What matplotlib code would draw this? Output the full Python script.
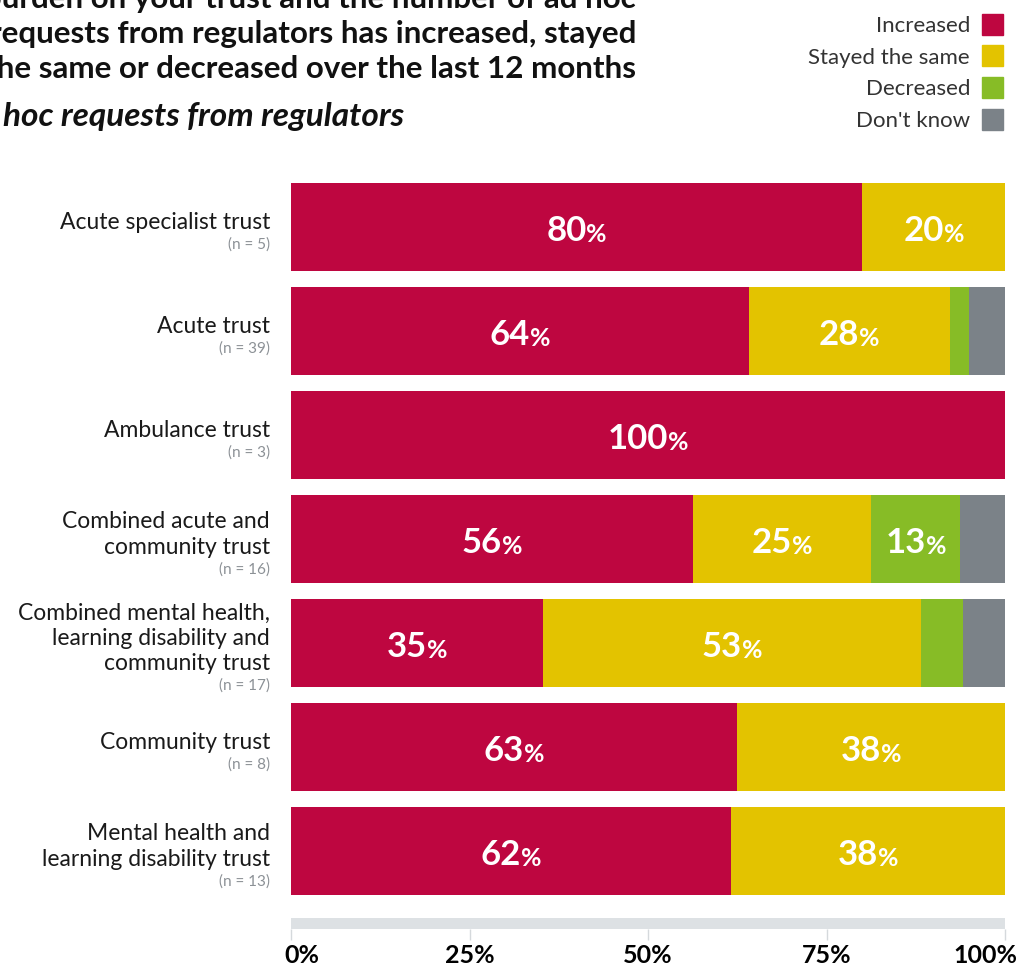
import numpy as np
import matplotlib
matplotlib.use("Agg")
import matplotlib.pyplot as plt
from matplotlib.patches import Rectangle
from matplotlib.transforms import ScaledTranslation

categories = ["Acute specialist trust", "Acute trust", "Ambulance trust",
              "Combined acute and\ncommunity trust",
              "Combined mental health,\nlearning disability and\ncommunity trust",
              "Community trust",
              "Mental health and\nlearning disability trust"]
sample_sizes = [5, 39, 3, 16, 17, 8, 13]

# share of respondents (%) per answer
increased = [80.0, 64.1, 100.0, 56.25, 35.3, 62.5, 61.6]
stayed_same = [20.0, 28.2, 0.0, 25.0, 52.9, 37.5, 38.4]
decreased = [0.0, 2.6, 0.0, 12.5, 5.9, 0.0, 0.0]
dont_know = [0.0, 5.1, 0.0, 6.25, 5.9, 0.0, 0.0]

series_names = ["Increased", "Stayed the same", "Decreased", "Don't know"]
series_colors = ["#be0640", "#e3c300", "#87bc26", "#7b8288"]
tick_values = [0, 25, 50, 75, 100]

title_lines = ["burden on your trust and the number of ad hoc",
               "requests from regulators has increased, stayed",
               "the same or decreased over the last 12 months"]
subtitle = "Ad hoc requests from regulators"

FONT = "Lato"
W, H = 1019, 966
fig = plt.figure(figsize=(W / 100, H / 100), dpi=100)


def fx(px):
    return px / W


def fy(py):
    return 1 - py / H


# main bar area
ax = fig.add_axes([fx(291), fy(903), fx(1005) - fx(291), (903 - 175) / H])
series = [increased, stayed_same, decreased, dont_know]
ypos = np.arange(len(categories))
left = np.zeros(len(categories))
for vals, col in zip(series, series_colors):
    vals = np.array(vals)
    ax.barh(ypos, vals, left=left, height=0.846, color=col, edgecolor="none")
    left = left + vals
ax.set_xlim(0, 100)
ax.set_ylim(len(categories) - 0.5, -0.5)
ax.axis("off")

# value labels: big number + smaller percent sign, centred in the segment
renderer = fig.canvas.get_renderer()
px_per_unit = (fx(1005) - fx(291)) * W / 100
left = np.zeros(len(categories))
for vals in series:
    for i, v in enumerate(vals):
        if v >= 10:
            c = left[i] + v / 2
            num = ax.text(c, i + 0.04, str(int(v + 0.5)), ha="right", va="center",
                          color="white", fontsize=25, fontweight="bold", family=FONT)
            pct = ax.text(c, i + 0.07, "%", ha="left", va="center",
                          color="white", fontsize=18, fontweight="bold", family=FONT)
            wn = num.get_window_extent(renderer).width
            wp = pct.get_window_extent(renderer).width
            shift = (wn - wp) / 2 / px_per_unit
            num.set_x(c + shift)
            pct.set_x(c + shift)
    left = left + np.array(vals)

# category labels, one text per line, sample size underneath
for i, (cat, n) in enumerate(zip(categories, sample_sizes)):
    lines = cat.split("\n")
    yc = 227 + 104 * i
    first = yc + 5 - (25 * (len(lines) - 1) + 23) / 2
    for k, line in enumerate(lines):
        fig.text(fx(270), fy(first + 25 * k), line, ha="right", va="center_baseline",
                 fontsize=16.5, color="#1a1a1a", family=FONT)
    fig.text(fx(270), fy(first + 25 * (len(lines) - 1) + 23), "(n = %d)" % n,
             ha="right", va="center_baseline", fontsize=11, color="#8c9196", family=FONT)

# scale band with ticks
sax = fig.add_axes([fx(291), fy(929), fx(1005) - fx(291), 11 / H])
sax.set_facecolor("#dde1e4")
sax.set_xlim(0, 100)
sax.set_yticks([])
sax.set_xticks(tick_values)
sax.set_xticklabels(["%d%%" % t for t in tick_values])
for sp in sax.spines.values():
    sp.set_visible(False)
sax.tick_params(axis="x", length=8, width=1, color="#d5d9dc", pad=3,
                labelsize=18)
labels = sax.get_xticklabels()
for lab in labels:
    lab.set_fontweight("bold")
    lab.set_family(FONT)
labels[0].set_horizontalalignment("left")
labels[0].set_transform(labels[0].get_transform() +
                        ScaledTranslation(-7 / 100, 0, fig.dpi_scale_trans))
labels[-1].set_horizontalalignment("right")
labels[-1].set_transform(labels[-1].get_transform() +
                         ScaledTranslation(12 / 100, 0, fig.dpi_scale_trans))

# legend, text right-aligned next to coloured squares
for k, (name, col) in enumerate(zip(series_names, series_colors)):
    yc = 24 + 31.7 * k
    fig.text(fx(970), fy(yc), name, ha="right", va="center_baseline", fontsize=16,
             color="#333333", family=FONT)
    fig.patches.append(Rectangle((fx(982), fy(yc + 10.5)), fx(21), 21 / H,
                                 transform=fig.transFigure, color=col))

# title, partly outside the canvas on the left and top
for k, line in enumerate(title_lines):
    fig.text(fx(636), fy(8 + 35 * k), line, ha="right", va="baseline",
             fontsize=22.6, fontweight="bold", family=FONT, color="#111111")
fig.text(fx(404), fy(126), subtitle, ha="right", va="baseline", fontsize=24,
         fontweight="bold", style="italic", family=FONT, color="#111111")

fig.savefig("out.png", dpi=100)
